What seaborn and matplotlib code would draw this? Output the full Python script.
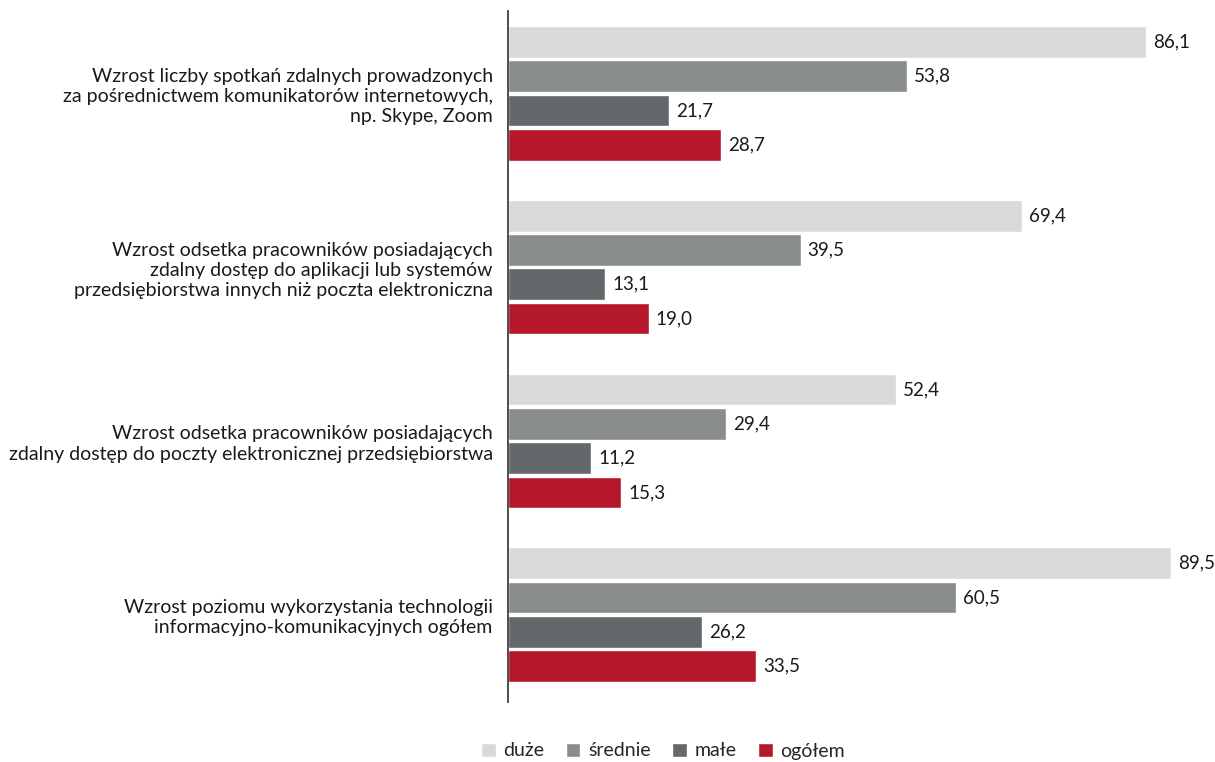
import matplotlib
matplotlib.use("Agg")
import matplotlib.pyplot as plt
import pandas as pd
import seaborn as sns

# categories (top to bottom) and series values
categories = [
    "Wzrost liczby spotkań zdalnych prowadzonych\nza pośrednictwem komunikatorów internetowych,\nnp. Skype, Zoom",
    "Wzrost odsetka pracowników posiadających\nzdalny dostęp do aplikacji lub systemów\nprzedsiębiorstwa innych niż poczta elektroniczna",
    "Wzrost odsetka pracowników posiadających\nzdalny dostęp do poczty elektronicznej przedsiębiorstwa",
    "Wzrost poziomu wykorzystania technologii\ninformacyjno-komunikacyjnych ogółem",
]
series = ["duże", "średnie", "małe", "ogółem"]
duze = [86.1, 69.4, 52.4, 89.5]
srednie = [53.8, 39.5, 29.4, 60.5]
male = [21.7, 13.1, 11.2, 26.2]
ogolem = [28.7, 19.0, 15.3, 33.5]
colors = ["#d9d9d9", "#8a8d8e", "#63686b", "#b5182b"]

df = pd.DataFrame({
    "cat": categories * 4,
    "grupa": [s for s in series for _ in categories],
    "val": duze + srednie + male + ogolem,
})

sns.set_style("white")
plt.rcParams["font.family"] = ["Lato", "DejaVu Sans"]

fig = plt.figure(figsize=(12.15, 7.62), dpi=100)
ax = fig.add_axes([508 / 1215, 1 - 702 / 762, 1 - 508 / 1215, (702 - 11) / 762])

sns.barplot(data=df, y="cat", x="val", hue="grupa", hue_order=series,
            palette=colors, orient="h", width=0.79, gap=0.075,
            saturation=1, ax=ax, legend=True)

for cont in ax.containers:
    ax.bar_label(cont, labels=[f"{v:.1f}".replace(".", ",") for v in cont.datavalues],
                 padding=5, fontsize=13.5, color="#1a1a1a")

ax.set_xlim(0, 95.4)
ax.set_ylim(3.502, -0.4735)
ax.set_xlabel("")
ax.set_ylabel("")
ax.set_xticks([])
ax.tick_params(axis="y", length=0, pad=11, labelsize=14, labelcolor="#1a1a1a")
for lbl in ax.get_yticklabels():
    lbl.set_multialignment("right")
    lbl.set_linespacing(1.22)
for s in ["top", "right", "bottom"]:
    ax.spines[s].set_visible(False)
ax.spines["left"].set_color("#404040")
ax.spines["left"].set_linewidth(1.3)

ax.legend(loc="center", bbox_to_anchor=(663 / 1215, 1 - 751 / 762),
          bbox_transform=fig.transFigure, ncol=4, frameon=False,
          fontsize=14, handlelength=0.75, handleheight=0.75,
          handletextpad=0.4, columnspacing=1.1)

fig.savefig("out.png", dpi=100)
